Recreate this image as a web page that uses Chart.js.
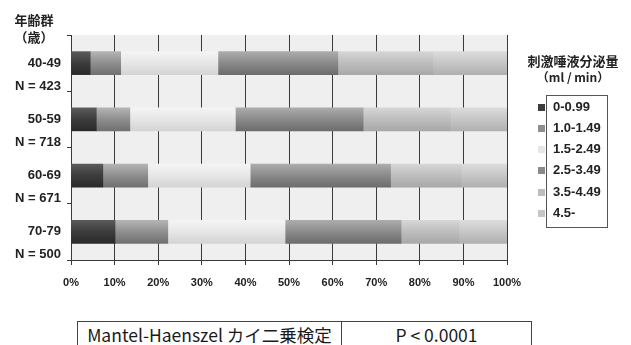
<!DOCTYPE html>
<html>
<head>
<meta charset="utf-8">
<script src="https://cdn.jsdelivr.net/npm/chart.js@4/dist/chart.umd.min.js"></script>
<style>
    html, body { margin: 0; padding: 0; background: #fff; overflow: hidden; }
    #wrap { position: relative; width: 631px; height: 345px; }
    #salivaChart { position: absolute; left: 0; top: 0; }
    #testTable {
        position: absolute; left: 77px; top: 321px; width: 453px; height: 34px;
        border: 1px solid #444; display: flex;
        font-family: "Noto Sans CJK JP", "Liberation Sans", sans-serif;
        font-size: 17.5px; color: #1a1a1a; background: #fff;
    }
    #testTable div { text-align: center; line-height: 22px; padding-top: 2px; }
    #testTable .c1 { width: 263px; border-right: 1px solid #444; }
    #testTable .c2 { flex: 1; }
</style>
</head>
<body>
<div id="wrap">
    <canvas id="salivaChart" width="631" height="345"></canvas>
    <div id="testTable"><div class="c1">Mantel-Haenszel カイ二乗検定</div><div class="c2">P &lt; 0.0001</div></div>
</div>
<script>
// age groups (y axis) and sample sizes
var ageGroups = ['40-49', '50-59', '60-69', '70-79'];
var groupN = ['N = 423', 'N = 718', 'N = 671', 'N = 500'];

// stimulated saliva flow bands (ml / min)
var flowBands = ['0-0.99', '1.0-1.49', '1.5-2.49', '2.5-3.49', '3.5-4.49', '4.5-'];

// share of each band per age group, in %
var band1 = [4.4, 5.8, 7.3, 10.1];
var band2 = [7.0, 7.7, 10.3, 12.1];
var band3 = [22.3, 24.2, 23.5, 26.9];
var band4 = [27.5, 29.3, 32.2, 26.6];
var band5 = [21.8, 20.0, 16.2, 13.3];
var band6 = [17.0, 13.0, 10.5, 11.0];

var percentTicks = ['0%', '10%', '20%', '30%', '40%', '50%', '60%', '70%', '80%', '90%', '100%'];

// grey shades: middle, top, bottom
var bandColors = [
    ['#3c3c3c', '#5a5a5a', '#2a2a2a'],
    ['#8e8e8e', '#b4b4b4', '#707070'],
    ['#e6e6e6', '#f4f4f4', '#d4d4d4'],
    ['#8a8a8a', '#acacac', '#6c6c6c'],
    ['#bdbdbd', '#d6d6d6', '#a8a8a8'],
    ['#c6c6c6', '#dcdcdc', '#b0b0b0']
];

var barThick = 23;

function shade(c) {
    return function(context) {
        var chart = context.chart;
        if (!chart.chartArea || !chart.scales.y) return c[0];
        var yc = chart.scales.y.getPixelForValue(context.dataIndex);
        var g = chart.ctx.createLinearGradient(0, yc - barThick / 2, 0, yc + barThick / 2);
        g.addColorStop(0, c[1]);
        g.addColorStop(0.5, c[0]);
        g.addColorStop(1, c[2]);
        return g;
    };
}

var bandValues = [band1, band2, band3, band4, band5, band6];
var datasets = flowBands.map(function(name, i) {
    return {
        label: name,
        data: bandValues[i],
        backgroundColor: shade(bandColors[i]),
        legendColor: bandColors[i][0],
        borderWidth: 0,
        barThickness: barThick
    };
});

// plot background + legend + corner title
var decor = {
    id: 'decor',
    beforeDraw: function(chart) {
        var a = chart.chartArea, ctx = chart.ctx;
        ctx.save();
        ctx.fillStyle = '#efefef';
        ctx.fillRect(a.left, a.top, a.right - a.left, a.bottom - a.top);
        ctx.restore();
    },
    afterDraw: function(chart) {
        var ctx = chart.ctx;
        ctx.save();
        ctx.fillStyle = '#222';
        ctx.textBaseline = 'middle';

        // y axis title
        ctx.textAlign = 'center';
        ctx.font = 'bold 13px "Noto Sans CJK JP"';
        ctx.fillText('年齢群', 34, 20);
        ctx.fillText('（歳）', 34, 37);

        // legend title
        ctx.fillText('刺激唾液分泌量', 573, 61);
        ctx.font = 'bold 12px "Noto Sans CJK JP"';
        ctx.fillText('（ml / min）', 573, 77);

        // legend box
        ctx.strokeStyle = '#555';
        ctx.lineWidth = 1;
        ctx.strokeRect(546.5, 95.5, 61, 132);

        ctx.textAlign = 'left';
        ctx.font = 'bold 13px "Liberation Sans"';
        chart.data.datasets.forEach(function(ds, i) {
            var y = 107 + i * 21.3;
            ctx.fillStyle = ds.legendColor;
            ctx.fillRect(538, Math.round(y - 3.5), 7, 7);
            ctx.fillStyle = '#222';
            ctx.fillText(ds.label, 553, y);
        });
        ctx.restore();
    }
};

var ctx = document.getElementById('salivaChart').getContext('2d');
var salivaChart = new Chart(ctx, {
    type: 'bar',
    data: {
        labels: ageGroups.map(function(g, i) { return [g, groupN[i]]; }),
        datasets: datasets
    },
    options: {
        indexAxis: 'y',
        responsive: false,
        animation: false,
        devicePixelRatio: 1,
        layout: { padding: { top: 35, right: 124, bottom: 0, left: 0 } },
        plugins: {
            legend: { display: false },
            tooltip: { enabled: false }
        },
        scales: {
            x: {
                stacked: true,
                min: 0,
                max: 100,
                ticks: {
                    stepSize: 10,
                    padding: 11,
                    color: '#222',
                    font: { family: 'Liberation Sans', size: 11, weight: 'bold' },
                    callback: function(v, i) { return percentTicks[i]; }
                },
                grid: { color: '#3a3a3a', lineWidth: 1, tickLength: 5 },
                border: { color: '#3a3a3a' },
                afterFit: function(scale) { scale.height = 85; }
            },
            y: {
                stacked: true,
                ticks: {
                    padding: 6,
                    labelOffset: 11.5,
                    color: '#222',
                    font: { family: 'Liberation Sans', size: 13, weight: 'bold', lineHeight: 23 / 13 }
                },
                grid: { drawOnChartArea: false, color: '#3a3a3a', tickLength: 4, offset: true },
                border: { color: '#3a3a3a' },
                afterFit: function(scale) { scale.width = 71; }
            }
        }
    },
    plugins: [decor]
});
</script>
</body>
</html>
